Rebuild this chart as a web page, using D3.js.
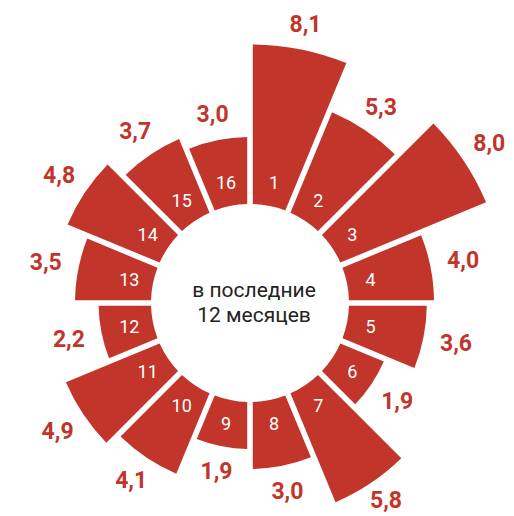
<!DOCTYPE html>
<html>
<head>
<meta charset="utf-8">
<script src="https://cdn.jsdelivr.net/npm/d3@7"></script>
<style>
  body { margin: 0; background: #fff; }
  svg { display: block; font-family: Roboto, "Noto Sans", sans-serif; }
</style>
</head>
<body>
<div id="chart"></div>
<script>
/* Radial bar chart: 16 numbered segments, value label outside each bar,
   caption in the hole. */

const months = ["1","2","3","4","5","6","7","8","9","10","11","12","13","14","15","16"];
const values = [8.1, 5.3, 8.0, 4.0, 3.6, 1.9, 5.8, 3.0, 1.9, 4.1, 4.9, 2.2, 3.5, 4.8, 3.7, 3.0];
const caption = ["в последние", "12 месяцев"];

const W = 514, H = 516;
const cx = 250, cy = 303;
const inner = 99;
const RED = "#c1352b";

const data = months.map((m, i) => ({ month: m, value: values[i] }));

const svg = d3.select("#chart").append("svg")
    .attr("width", W).attr("height", H);
const g = svg.append("g").attr("transform", `translate(${cx},${cy})`);

// angle per segment, clockwise from 12 o'clock
const x = d3.scaleBand().domain(months).range([0, 2 * Math.PI]);
// bar length
const r = d3.scaleLinear().domain([0, 8.1]).range([111.5, 258.5]);

const arc = d3.arc()
    .innerRadius(inner)
    .outerRadius(d => r(d.value))
    .startAngle(d => x(d.month))
    .endAngle(d => x(d.month) + x.bandwidth())
    .padAngle(0.056)
    .padRadius(100);

g.selectAll("path").data(data).join("path")
    .attr("d", arc)
    .attr("fill", RED);

const mid = d => x(d.month) + x.bandwidth() / 2;
const polar = (a, rad) => [Math.sin(a) * rad, -Math.cos(a) * rad];

// segment numbers inside the bars
g.selectAll("text.num").data(data).join("text")
    .attr("class", "num")
    .attr("transform", d => `translate(${polar(mid(d), 123)})`)
    .attr("text-anchor", "middle")
    .attr("dominant-baseline", "central")
    .attr("font-size", 18)
    .attr("fill", "#fff")
    .text(d => d.month);

// values outside the bars; labels sit a bit further out at the sides (wider than tall)
const labelGap = a => 25.5 + 8 * Math.sin(a) ** 2;
const labelPos = d => {
  const [lx, ly] = polar(mid(d), r(d.value) + labelGap(mid(d)));
  return [lx, Math.min(ly, H - cy - 16)];   // keep inside the bottom edge
};
g.selectAll("text.val").data(data).join("text")
    .attr("class", "val")
    .attr("transform", d => `translate(${labelPos(d)})`)
    .attr("text-anchor", "middle")
    .attr("dominant-baseline", "central")
    .attr("font-size", 23)
    .attr("font-weight", 700)
    .attr("fill", RED)
    .text(d => d3.format(".1f")(d.value).replace(".", ","));

// caption in the middle
g.append("text")
    .attr("text-anchor", "middle")
    .attr("font-size", 21)
    .attr("fill", "#222")
    .selectAll("tspan").data(caption).join("tspan")
    .attr("x", 4)
    .attr("y", (d, i) => -6 + i * 25)
    .text(d => d);
</script>
</body>
</html>
